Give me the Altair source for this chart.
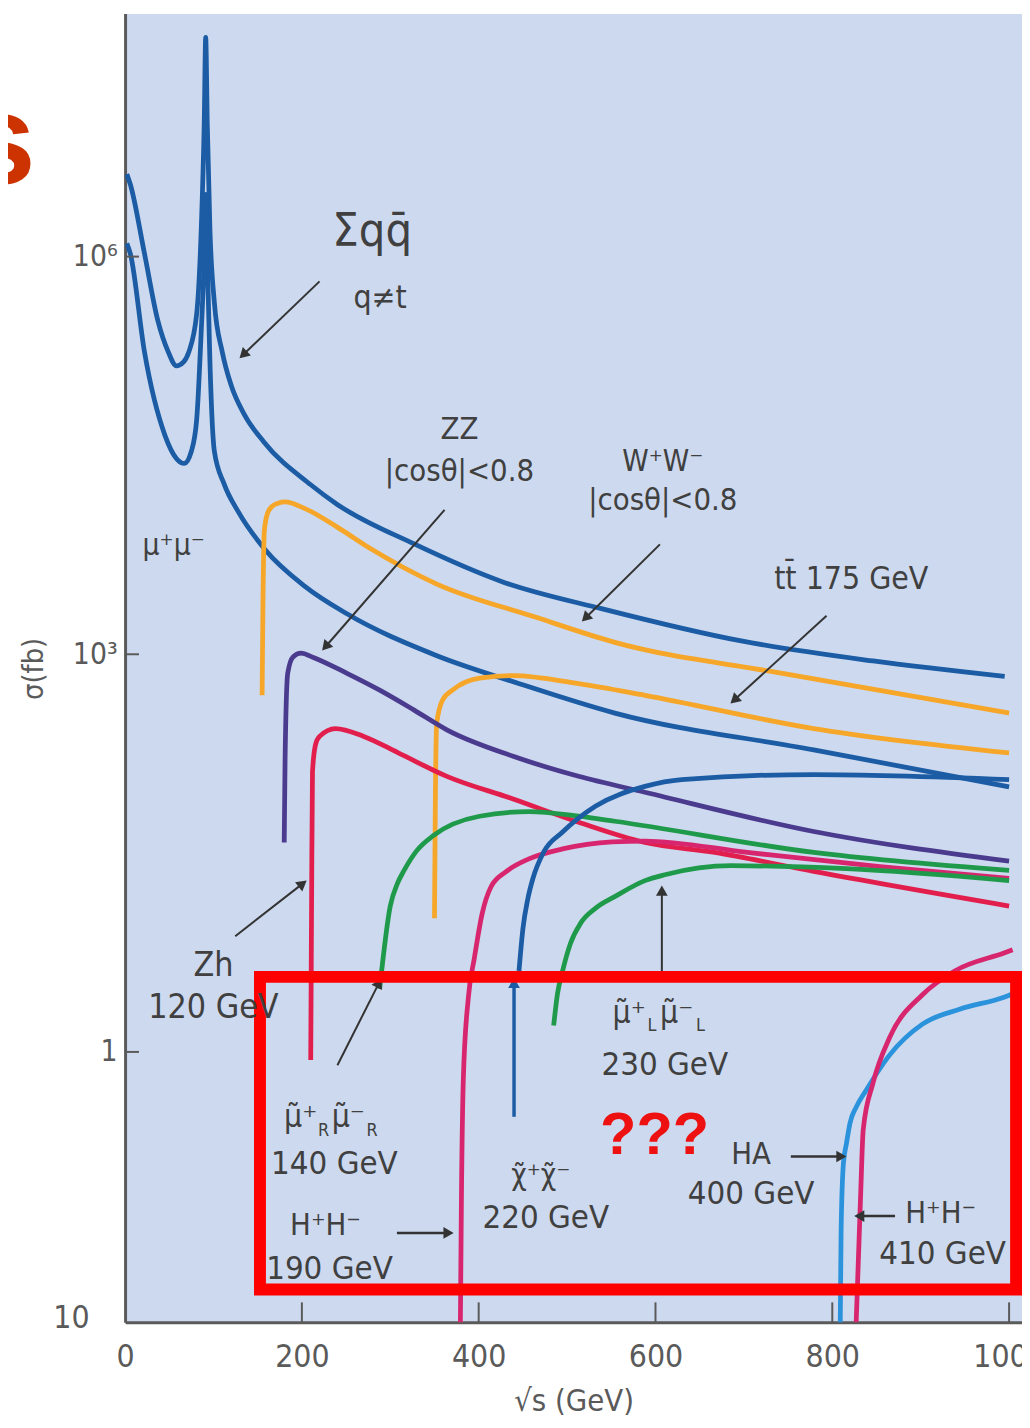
import math
import altair as alt
import pandas as pd

# ---------------- values (sqrt(s) in GeV, sigma in fb) ----------------
QQ_X = [2, 6, 22, 37, 49, 58, 66, 72, 81, 86.4, 89.5, 91.2, 93, 96, 101, 110, 120, 134, 157, 210, 240, 327, 428, 540, 697, 846, 995]
QQ_S = [4.2e6, 3.5e6, 1.05e6, 3.3e5, 1.9e5, 1.5e5, 1.6e5, 1.9e5, 3.7e5, 1.8e6, 1.0e7, 4.5e7, 1.0e7, 1.6e6, 4.5e5, 1.9e5, 1.07e5, 6.6e4, 4.0e4, 1.9e4, 1.35e4, 6.8e3, 3.5e3, 2.2e3, 1.26e3, 890, 680]

MUMU_X = [2, 6, 22, 45, 58, 67, 75, 81, 86, 89.5, 91.2, 93, 96, 101, 112, 128, 158, 203, 251, 352, 446, 554, 779, 1000]
MUMU_S = [1.26e6, 1.05e6, 1.9e5, 4.5e4, 3.0e4, 2.75e4, 3.4e4, 5.9e4, 2.6e5, 1.0e6, 2.95e6, 1.0e6, 1.6e5, 3.4e4, 1.93e4, 1.19e4, 6.2e3, 3.27e3, 2.02e3, 980, 600, 360, 190, 100]

WW_X = [155, 156, 157.5, 161, 166, 173, 181, 203, 240, 277, 352, 465, 554, 742, 1000]
WW_S = [490, 2.5e3, 8.5e3, 1.15e4, 1.3e4, 1.38e4, 1.41e4, 1.26e4, 9.1e3, 6.3e3, 3.4e3, 1.9e3, 1.23e3, 720, 360]

TT_X = [350, 351, 352.5, 359, 371, 401, 439, 513, 588, 779, 1000]
TT_S = [10.2, 81, 300, 450, 540, 660, 690, 600, 490, 275, 180]

ZZ_X = [180, 181, 184, 190, 199, 213, 251, 288, 327, 364, 439, 513, 588, 779, 1000]
ZZ_S = [38, 160, 720, 955, 1020, 946, 718, 536, 379, 269, 170, 120, 91, 46, 27.5]

ZH_X = [210, 211, 212, 215.5, 220, 238, 270, 308, 364, 439, 513, 588, 667, 779, 1000]
ZH_S = [0.87, 14.5, 129, 209, 240, 275, 240, 182, 120, 81, 54, 38, 32, 23, 12.6]

MUR_X = [288, 300, 308, 315, 330, 349, 401, 457, 513, 554, 779, 1000]
MUR_S = [3.0, 12.6, 18.6, 23, 33, 43, 60, 65, 60, 55, 32, 23.4]

HH190_X = [379.3, 380.5, 382.7, 388.3, 395.1, 404.0, 414.1, 431.0, 456.8, 494.9, 551.1, 588, 704, 854, 1000]
HH190_S = [0.009, 0.081, 0.646, 2.57, 5.1, 11.1, 17.7, 22.9, 28.6, 34.0, 38.4, 39, 32, 25, 20.4]

CHI_X = [445.6, 450.1, 455.7, 461.3, 473.6, 494.9, 532.0, 588.1, 629.6, 778.9, 1000]
CHI_S = [4.08, 8.57, 14.4, 20.3, 32.3, 45.6, 71.3, 100.7, 113.5, 123.8, 113.5]

MUL_X = [484.8, 489.3, 494.9, 503.9, 515.2, 532.0, 554.4, 588.1, 610.5, 685.7, 815.9, 1000]
MUL_S = [1.58, 2.79, 4.08, 6.61, 9.33, 12.1, 14.9, 19.6, 21.7, 25.4, 24.1, 19.6]

HA_X = [809, 810, 812.6, 816, 820, 827.2, 838, 865, 902, 944, 995, 1004]
HA_S = [0.009, 0.046, 0.145, 0.203, 0.29, 0.385, 0.51, 0.95, 1.62, 2.1, 2.6, 2.75]

HH410_X = [827, 832, 835, 846, 865, 902, 939, 995, 1004]
HH410_S = [0.009, 0.081, 0.26, 0.58, 1.29, 2.7, 4.1, 5.6, 5.9]

X_TICKS = [0, 200, 400, 600, 800, 1000]
Y_TICKS = [1, 1e3, 1e6]

# ---------------- styling ----------------
BLUE = "#1b5ca5"
ORANGE = "#f6a628"
PURPLE = "#4b3b8f"
RED = "#e21f4c"
MAGENTA = "#d8266e"
GREEN = "#1f9a4b"
LBLUE = "#2b92dc"
FONT = "Liberation Sans Narrow, DejaVu Sans Condensed, Liberation Sans, sans-serif"
BFONT = "Liberation Sans, Arial, sans-serif"
TXT = "#404040"
AXC = "#5a5a5a"

SERIES = [
    ("qq", QQ_X, QQ_S, BLUE),
    ("mumu", MUMU_X, MUMU_S, BLUE),
    ("ww", WW_X, WW_S, ORANGE),
    ("tt", TT_X, TT_S, ORANGE),
    ("zz", ZZ_X, ZZ_S, PURPLE),
    ("zh", ZH_X, ZH_S, RED),
    ("mur", MUR_X, MUR_S, GREEN),
    ("hh190", HH190_X, HH190_S, MAGENTA),
    ("chi", CHI_X, CHI_S, BLUE),
    ("mul", MUL_X, MUL_S, GREEN),
    ("ha", HA_X, HA_S, LBLUE),
    ("hh410", HH410_X, HH410_S, MAGENTA),
]

W, H = 904, 1319
XMAX = 1014.6
YMIN, YMAX = 0.00914, 6.82e7
LOG_SPAN = math.log10(YMAX) - math.log10(YMIN)

xs = alt.Scale(domain=[0, XMAX], nice=False, zero=False)
ys = alt.Scale(type="log", domain=[YMIN, YMAX], nice=False)

XAX = alt.Axis(
    values=X_TICKS, format="d", ticks=False, tickSize=0, grid=False,
    labelFont=FONT, labelFontSize=32, labelColor=AXC, labelPadding=20,
    labelFlush=False, labelOverlap=False,
    domainColor=AXC, domainWidth=3,
    title="√s (GeV)", titleFont=FONT, titleFontSize=31, titleFontWeight="normal",
    titleColor=AXC, titleY=80, titleBaseline="middle")
YAX = alt.Axis(
    values=Y_TICKS, ticks=False, tickSize=0, grid=False,
    labelExpr="datum.value >= 1e5 ? '10⁶' : datum.value >= 100 ? '10³' : '1'",
    labelFont=FONT, labelFontSize=30, labelColor=AXC, labelPadding=8,
    labelFlush=False, labelOverlap=False,
    domainColor=AXC, domainWidth=3,
    title="σ(fb)", titleFont=FONT, titleFontSize=29, titleFontWeight="normal",
    titleColor=AXC, titleAngle=270, titleX=-92, titleY=660,
    titleAlign="center", titleBaseline="middle")


def X(field):
    return alt.X(field, scale=xs, axis=XAX)


def Y(field):
    return alt.Y(field, scale=ys, axis=YAX)


def to_px(x, s):
    return x / XMAX * W, (math.log10(YMAX) - math.log10(s)) / LOG_SPAN * H


rows = []
for key, xv, sv, col in SERIES:
    for i, (a, b) in enumerate(zip(xv, sv)):
        rows.append({"series": key, "x": a, "s": b, "i": i})
curves = pd.DataFrame(rows)

color_scale = alt.Scale(domain=[k for k, _, _, _ in SERIES], range=[c for _, _, _, c in SERIES])

lines = alt.Chart(curves).mark_line(strokeWidth=4.8, interpolate="monotone", clip=True).encode(
    x=X("x:Q"), y=Y("s:Q"),
    color=alt.Color("series:N", scale=color_scale, legend=None),
    detail="series:N",
    order="i:Q",
)

xticks = alt.Chart(pd.DataFrame({"x": X_TICKS[1:]})).mark_rule(color=AXC, strokeWidth=2).encode(
    x=X("x:Q"), y=alt.value(H), y2=alt.value(H - 20))
yticks = alt.Chart(pd.DataFrame({"s": Y_TICKS})).mark_rule(color=AXC, strokeWidth=2).encode(
    y=Y("s:Q"), x=alt.value(0), x2=alt.value(14))

# ---------------- arrows ----------------
ARROWS = [  # tail x, tail sigma, head x, head sigma, colour, width
    (220, 6.5e5, 133.6, 1.82e5, "#333333", 2),
    (361.4, 1.23e4, 226.7, 1.14e3, "#333333", 2),
    (605, 6.75e3, 520.8, 1.88e3, "#333333", 2),
    (793.5, 1.95e3, 689.1, 451, "#333333", 2),
    (124.6, 7.46, 200.9, 18.6, "#333333", 2),
    (240.2, 0.794, 287.3, 3.32, "#333333", 2),
    (307.5, 0.0431, 365.9, 0.0431, "#333333", 2.5),
    (440, 0.324, 440, 3.32, BLUE, 3.5),
    (607.2, 3.95, 607.2, 16.5, "#333333", 2),
    (753.1, 0.1626, 810.3, 0.1626, "#333333", 2.5),
    (871, 0.0578, 830.5, 0.0578, "#333333", 2.5),
]
arows = []
for x1, s1, x2, s2, col, w in ARROWS:
    p1 = to_px(x1, s1)
    p2 = to_px(x2, s2)
    ang = math.degrees(math.atan2(p2[0] - p1[0], -(p2[1] - p1[1]))) % 360
    arows.append({"x1": x1, "s1": s1, "x2": x2, "s2": s2, "col": col, "w": w, "ang": ang})
adf = pd.DataFrame(arows)

arrow_lines = alt.Chart(adf).mark_rule().encode(
    x=X("x1:Q"), x2="x2:Q", y=Y("s1:Q"), y2="s2:Q",
    color=alt.Color("col:N", scale=None), strokeWidth=alt.StrokeWidth("w:Q", scale=None))
arrow_heads = alt.Chart(adf).mark_point(shape="triangle-up", filled=True, size=140, opacity=1).encode(
    x=X("x2:Q"), y=Y("s2:Q"),
    color=alt.Color("col:N", scale=None), angle=alt.Angle("ang:Q", scale=None))

# ---------------- red box ----------------
box = alt.Chart(pd.DataFrame({"x": [152.6], "x2": [1007.9], "s": [3.68], "s2": [0.01614]})).mark_rect(
    filled=False, stroke="#ff0000", strokeWidth=12, fillOpacity=0).encode(
    x=X("x:Q"), x2="x2:Q", y=Y("s:Q"), y2="s2:Q")

# ---------------- text annotations ----------------
ANNOT = [  # text, x, sigma, size, dx, dy, weight, colour, font, align, baseline
    ("Σqq̄", 279.5, 1.54e6, 47, 0, 0, "normal", TXT, FONT, "center", "middle"),
    ("q≠t", 288.4, 4.85e5, 32, 0, 0, "normal", TXT, FONT, "center", "middle"),
    ("ZZ", 378.2, 4.9e4, 31, 0, 0, "normal", TXT, FONT, "center", "middle"),
    ("|cosθ|<0.8", 378.2, 2.38e4, 31, 0, 0, "normal", TXT, FONT, "center", "middle"),
    ("W⁺W⁻", 608.3, 2.82e4, 30, 0, 0, "normal", TXT, FONT, "center", "middle"),
    ("|cosθ|<0.8", 608.3, 1.42e4, 31, 0, 0, "normal", TXT, FONT, "center", "middle"),
    ("tt̄ 175 GeV", 821.5, 3.69e3, 32, 0, 0, "normal", TXT, FONT, "center", "middle"),
    ("μ⁺μ⁻", 55, 6.5e3, 30, 0, 0, "normal", TXT, FONT, "center", "middle"),
    ("Zh", 99.9, 4.45, 34, 0, 0, "normal", TXT, FONT, "center", "middle"),
    ("120 GeV", 99.9, 2.16, 34, 0, 0, "normal", TXT, FONT, "center", "middle"),
    ("μ̃⁺", 236.8, 0.324, 32, -34, 0, "normal", TXT, FONT, "center", "middle"),
    ("R", 236.8, 0.324, 18, -11, 14, "normal", TXT, FONT, "center", "middle"),
    ("μ̃⁻", 236.8, 0.324, 32, 14, 0, "normal", TXT, FONT, "center", "middle"),
    ("R", 236.8, 0.324, 18, 38, 14, "normal", TXT, FONT, "center", "middle"),
    ("140 GeV", 236.8, 0.1416, 33, 0, 0, "normal", TXT, FONT, "center", "middle"),
    ("H⁺H⁻", 226.7, 0.0486, 31, 0, 0, "normal", TXT, FONT, "center", "middle"),
    ("190 GeV", 231.2, 0.0232, 33, 0, 0, "normal", TXT, FONT, "center", "middle"),
    ("χ̃⁺χ̃⁻", 470.3, 0.115, 30, 0, 0, "normal", TXT, FONT, "center", "middle"),
    ("220 GeV", 475.9, 0.0558, 33, 0, 0, "normal", TXT, FONT, "center", "middle"),
    ("μ̃⁺", 608.3, 1.98, 32, -34, 0, "normal", TXT, FONT, "center", "middle"),
    ("L", 608.3, 1.98, 18, -11, 14, "normal", TXT, FONT, "center", "middle"),
    ("μ̃⁻", 608.3, 1.98, 32, 14, 0, "normal", TXT, FONT, "center", "middle"),
    ("L", 608.3, 1.98, 18, 38, 14, "normal", TXT, FONT, "center", "middle"),
    ("230 GeV", 610.5, 0.794, 33, 0, 0, "normal", TXT, FONT, "center", "middle"),
    ("HA", 708.2, 0.168, 31, 0, 0, "normal", TXT, FONT, "center", "middle"),
    ("400 GeV", 708.2, 0.0845, 33, 0, 0, "normal", TXT, FONT, "center", "middle"),
    ("H⁺H⁻", 922.6, 0.0598, 31, 0, 0, "normal", TXT, FONT, "center", "middle"),
    ("410 GeV", 924.8, 0.0301, 33, 0, 0, "normal", TXT, FONT, "center", "middle"),
    ("???", 599, 0.23, 60, 0, 0, "bold", "#ee1111", BFONT, "center", "middle"),
    ("10", -60.6, 0.0098, 32, 0, 0, "normal", AXC, FONT, "center", "middle"),
    ("s", -107.7, 3.51e6, 130, 6, 0, "bold", "#cc3300", BFONT, "right", "alphabetic"),
]

texts = []
for t, x, s, size, dx, dy, wt, col, fnt, al, bl in ANNOT:
    texts.append(
        alt.Chart(pd.DataFrame({"x": [x], "s": [s], "t": [t]})).mark_text(
            font=fnt, fontSize=size, fontWeight=wt, color=col, dx=dx, dy=dy,
            align=al, baseline=bl).encode(
            x=X("x:Q"), y=Y("s:Q"), text="t:N"))

chart = alt.layer(lines, xticks, yticks, arrow_lines, arrow_heads, box, *texts).properties(
    width=W, height=H,
    autosize=alt.AutoSizeParams(type="none"),
    padding={"left": 118, "top": 0, "right": 0, "bottom": 95},
).configure(background="white").configure_view(fill="#cdd9ee", stroke="transparent")

chart.save("out.html", embed_options={"renderer": "svg", "actions": False})
